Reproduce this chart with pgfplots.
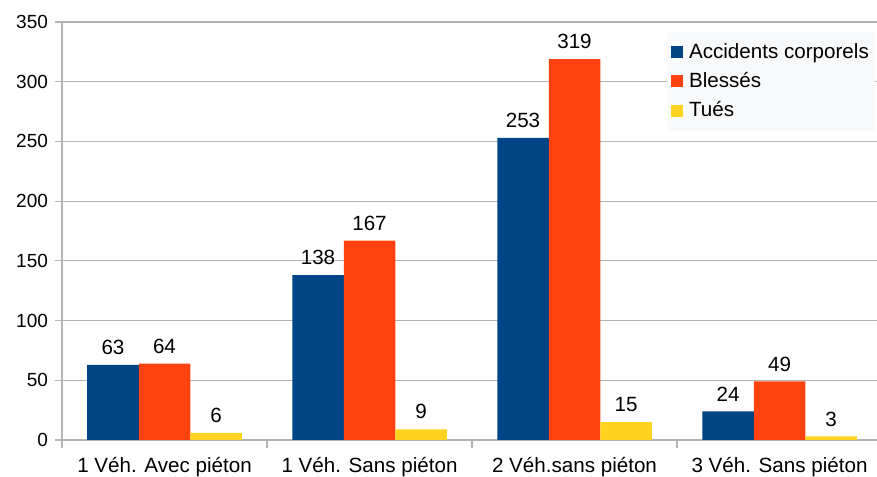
\documentclass[border=0pt]{standalone}
\usepackage{pgfplots}
\pgfplotsset{compat=1.18}
\usepackage{fontspec}
\setmainfont{Liberation Sans}
\definecolor{cA}{HTML}{004586}
\definecolor{cB}{HTML}{FF420E}
\definecolor{cC}{HTML}{FFD320}
\definecolor{gridc}{HTML}{B3B3B3}
\definecolor{legbg}{HTML}{F8F9FA}
\begin{document}
\fontsize{20.6bp}{24bp}\selectfont
\begin{tikzpicture}
\path[use as bounding box] (0,0) rectangle (877bp,477bp);
\begin{axis}[
  at={(62bp,37bp)}, anchor=south west,
  scale only axis, width=820bp, height=418bp,
  ybar=0pt, bar width=51.5bp,
  xmin=-0.5, xmax=3.5, ymin=0, ymax=350,
  xtick={0,1,2,3},
  xticklabels={1 Véh. Avec piéton, 1 Véh. Sans piéton, 2 Véh.sans piéton, 3 Véh. Sans piéton},
  minor xtick={-0.5,0.5,1.5,2.5,3.5},
  major x tick style={draw=none},
  ytick={0,50,...,350},
  /pgf/number format/assume math mode=true,
  ymajorgrids, grid style={gridc, line width=1.2bp},
  axis x line*=bottom, axis y line*=left,
  axis line style={gridc, line width=1.2bp, -},
  tick style={gridc, line width=1.2bp},
  tick align=outside,
  major tick length=7bp, minor tick length=8bp,
  ticklabel style={font=\fontsize{20.6bp}{24bp}\selectfont, black},
  yticklabel style={font=\fontsize{19bp}{24bp}\selectfont},
  xticklabel style={yshift=-3.5bp},
  nodes near coords,
  every node near coord/.append style={font=\fontsize{20.6bp}{24bp}\selectfont, black, yshift=3bp},
  legend style={at={(0.9915,0.9761)}, anchor=north east, fill=legbg, draw=none,
    font=\fontsize{20.6bp}{24bp}\selectfont, row sep=7bp, inner xsep=4bp, inner ysep=9bp},
  legend cell align=left,
]
\addplot[fill=cA, draw=none, legend image code/.code={\fill[cA] (0bp,-6bp) rectangle (12bp,6bp); \path (16bp,0bp);}] coordinates {(0,63) (1,138) (2,253) (3,24)};
\addplot[fill=cB, draw=none, legend image code/.code={\fill[cB] (0bp,-6bp) rectangle (12bp,6bp); \path (16bp,0bp);}] coordinates {(0,64) (1,167) (2,319) (3,49)};
\addplot[fill=cC, draw=none, legend image code/.code={\fill[cC] (0bp,-6bp) rectangle (12bp,6bp); \path (16bp,0bp);}] coordinates {(0,6) (1,9) (2,15) (3,3)};
\legend{Accidents corporels, Blessés, Tués}
\end{axis}
\end{tikzpicture}
\end{document}
